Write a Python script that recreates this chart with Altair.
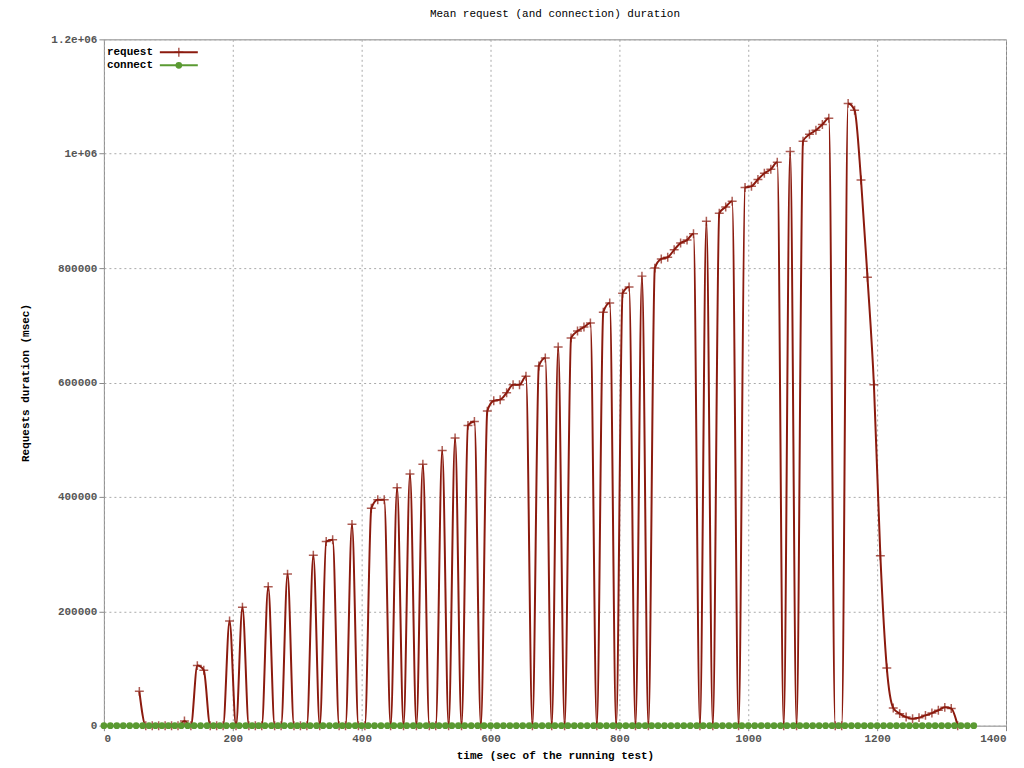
import altair as alt
import pandas as pd

# sample times (s) and mean request duration (msec)
req_time = list(range(55, 1335, 10))
req_value = [
    60000, 0, 0, 0, 0, 0, 0, 8000, 0, 105000,
    97000, 0, 0, 0, 183000, 0, 207000, 0, 0, 0,
    243000, 0, 0, 265000, 0, 0, 0, 298000, 0, 322000,
    325000, 0, 0, 352000, 0, 0, 380000, 395000, 395000, 0,
    416000, 0, 440000, 0, 457000, 0, 0, 481000, 0, 503000,
    0, 525000, 532000, 0, 550000, 568000, 570000, 582000, 596000, 596000,
    611000, 0, 629000, 643000, 0, 662000, 0, 678000, 690000, 697000,
    704000, 0, 723000, 739000, 0, 756000, 767000, 0, 786000, 0,
    800000, 816000, 819000, 832000, 844000, 849000, 860000, 0, 882000, 0,
    896000, 907000, 917000, 0, 941000, 943000, 955000, 966000, 973000, 985000,
    0, 1004000, 0, 1022000, 1034000, 1041000, 1051000, 1062000, 0, 0,
    1088000, 1076000, 954000, 784000, 596000, 297000, 101000, 31000, 21000, 15000,
    12000, 14000, 18000, 22000, 27000, 32000, 30000, 0,
]
conn_time = list(range(0, 1360, 10))
conn_value = [0] * len(conn_time)

RED = "#8b1a0e"
GREEN = "#5a9a32"
FONT = "Liberation Mono"

req = pd.DataFrame({"t": req_time, "v": req_value})
conn = pd.DataFrame({"t": conn_time, "v": conn_value})

x = alt.X("t:Q", scale=alt.Scale(domain=[0, 1400], nice=False),
          title="time (sec of the running test)",
          axis=alt.Axis(values=list(range(0, 1401, 200)), format="d",
                        gridDash=[2, 3], gridColor="#aaaaaa"))
y = alt.Y("v:Q", scale=alt.Scale(domain=[0, 1200000], nice=False),
          title="Requests duration (msec)",
          axis=alt.Axis(values=list(range(0, 1200001, 200000)), format="d",
                        gridDash=[2, 3], gridColor="#aaaaaa",
                        labelExpr="datum.value == 1000000 ? '1e+06' : datum.value == 1200000 ? '1.2e+06' : datum.label"))

cross = "M-1,0L1,0M0,-1L0,1"

req_line = alt.Chart(req).mark_line(color=RED, strokeWidth=2, interpolate="monotone").encode(x=x, y=y)
req_pts = alt.Chart(req).mark_point(shape=cross, color=RED, size=80, strokeWidth=1.5).encode(x=x, y=y)
conn_line = alt.Chart(conn).mark_line(color=GREEN, strokeWidth=2).encode(x=x, y=y)
conn_pts = alt.Chart(conn).mark_point(shape="circle", filled=True, color=GREEN, size=45, opacity=1).encode(x=x, y=y)

leg = pd.DataFrame({"name": ["request", "connect"]})
leg_req_line = alt.Chart(leg.iloc[[0]]).mark_rule(color=RED, strokeWidth=2).encode(
    x=alt.value(56), x2=alt.value(94), y=alt.value(13))
leg_req_pt = alt.Chart(leg.iloc[[0]]).mark_point(shape=cross, color=RED, size=80, strokeWidth=1.5).encode(
    x=alt.value(75), y=alt.value(13))
leg_conn_line = alt.Chart(leg.iloc[[1]]).mark_rule(color=GREEN, strokeWidth=2).encode(
    x=alt.value(56), x2=alt.value(94), y=alt.value(26))
leg_conn_pt = alt.Chart(leg.iloc[[1]]).mark_point(shape="circle", filled=True, color=GREEN, size=45, opacity=1).encode(
    x=alt.value(75), y=alt.value(26))
leg_text0 = alt.Chart(leg.iloc[[0]]).mark_text(align="left", baseline="middle", font=FONT, fontSize=11,
                                             fontWeight="bold", color="black").encode(
    text="name:N", x=alt.value(3), y=alt.value(13))
leg_text1 = alt.Chart(leg.iloc[[1]]).mark_text(align="left", baseline="middle", font=FONT, fontSize=11,
                                             fontWeight="bold", color="black").encode(
    text="name:N", x=alt.value(3), y=alt.value(26))

chart = alt.layer(
    req_line, req_pts, conn_line, conn_pts,
    leg_req_line, leg_req_pt, leg_conn_line, leg_conn_pt, leg_text0, leg_text1,
).properties(
    width=903, height=687,
    title=alt.TitleParams("Mean request (and connection) duration", font=FONT, fontSize=11,
                          fontWeight="normal", offset=14),
    autosize=alt.AutoSizeParams(type="none"),
    padding={"left": 96, "top": 31, "right": 10, "bottom": 40},
).configure_view(stroke="#888888").configure_axis(
    labelFont=FONT, titleFont=FONT, labelFontSize=11, titleFontSize=11,
    labelColor="#555555", titleColor="black", domain=False, tickColor="#888888",
    labelFontWeight="bold", titleFontWeight="bold",
).configure_axisY(titlePadding=20).configure_axisX(titlePadding=6)

chart.save("out.html", embed_options={"renderer": "svg", "actions": False})
